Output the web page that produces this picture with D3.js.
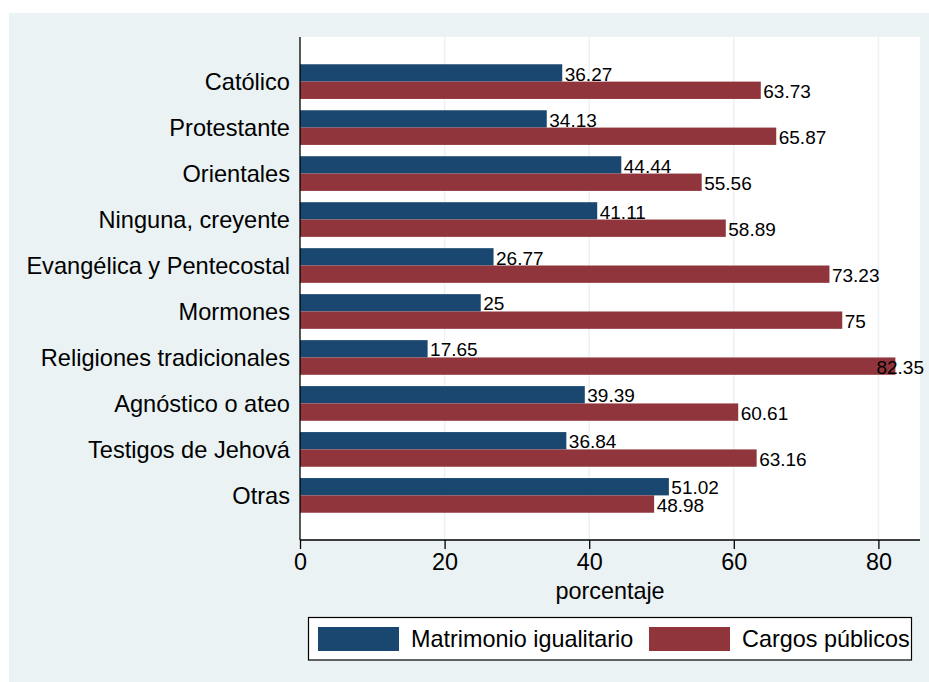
<!DOCTYPE html>
<html>
<head>
<meta charset="utf-8">
<script src="https://cdn.jsdelivr.net/npm/d3@7"></script>
<style>
  html, body { margin: 0; padding: 0; background: #ffffff; }
  text { font-family: "Liberation Sans", Arial, sans-serif; fill: #000; }
</style>
</head>
<body>
<svg id="chart" width="929" height="682"></svg>
<script>
const categories = ["Católico", "Protestante", "Orientales", "Ninguna, creyente",
  "Evangélica y Pentecostal", "Mormones", "Religiones tradicionales",
  "Agnóstico o ateo", "Testigos de Jehová", "Otras"];
const seriesNames = ["Matrimonio igualitario", "Cargos públicos"];
const matrimonio = [36.27, 34.13, 44.44, 41.11, 26.77, 25, 17.65, 39.39, 36.84, 51.02];
const cargos = [63.73, 65.87, 55.56, 58.89, 73.23, 75, 82.35, 60.61, 63.16, 48.98];
const xTicks = [0, 20, 40, 60, 80];
const colors = ["#1a476f", "#90353b"];
const axisTitle = "porcentaje";

const svg = d3.select("#chart");
const W = 929, H = 682;
const plot = { left: 300, right: 920, top: 37, bottom: 540 };

// outer graph region
svg.append("rect").attr("x", 9).attr("y", 13).attr("width", W - 9).attr("height", H - 13)
  .attr("fill", "#eaf2f3");
svg.append("rect").attr("x", plot.left).attr("y", plot.top)
  .attr("width", plot.right - plot.left).attr("height", plot.bottom - plot.top)
  .attr("fill", "#ffffff");

const x = d3.scaleLinear().domain([0, (plot.right - plot.left) / 7.23]).range([plot.left, plot.right]);
const y = d3.scaleBand().domain(categories).range([plot.top, plot.bottom])
  .paddingInner(0.2457).paddingOuter(0.593);
const ySub = d3.scaleBand().domain([0, 1]).range([0, y.bandwidth()]);

// gridlines
svg.append("g").selectAll("line").data(xTicks.filter(d => d > 0)).join("line")
  .attr("x1", d => x(d)).attr("x2", d => x(d))
  .attr("y1", plot.top).attr("y2", plot.bottom)
  .attr("stroke", "#eaf2f3").attr("stroke-width", 1.5);

const rows = categories.map((c, i) => ({ cat: c, vals: [matrimonio[i], cargos[i]] }));

const g = svg.append("g");
const groups = g.selectAll("g.grp").data(rows).join("g")
  .attr("transform", d => `translate(0,${y(d.cat)})`);

groups.selectAll("rect").data(d => d.vals.map((v, k) => ({ v, k }))).join("rect")
  .attr("x", x(0))
  .attr("y", d => ySub(d.k))
  .attr("width", d => x(d.v) - x(0))
  .attr("height", ySub.bandwidth())
  .attr("fill", d => colors[d.k]);

const labelLimit = 924;
groups.selectAll("text.val").data(d => d.vals.map((v, k) => ({ v, k }))).join("text")
  .attr("class", "val")
  .attr("y", d => ySub(d.k) + ySub.bandwidth() - 1)
  .style("font-size", "19px")
  .text(d => String(d.v))
  .attr("x", function(d) {
    const w = this.getComputedTextLength();
    return Math.min(x(d.v) + 2.5, labelLimit - w);
  });

// category labels
svg.append("g").selectAll("text").data(categories).join("text")
  .attr("x", plot.left - 10)
  .attr("y", d => y(d) + y.bandwidth() / 2 + 8.4)
  .attr("text-anchor", "end")
  .style("font-size", "23.6px")
  .text(d => d);

// axes
const xAxis = d3.axisBottom(x).tickValues(xTicks).tickSize(9).tickPadding(4).tickFormat(d3.format("d"));
const ax = svg.append("g").attr("transform", `translate(0,${plot.bottom})`).call(xAxis);
ax.select(".domain").remove();
ax.selectAll(".tick line").attr("stroke", "#000").attr("stroke-width", 1.3);
ax.selectAll(".tick text").style("font-size", "23.4px")
  .style("font-family", '"Liberation Sans", Arial, sans-serif').attr("fill", "#000");
svg.append("line").attr("x1", plot.left).attr("x2", plot.right + 0)
  .attr("y1", plot.bottom).attr("y2", plot.bottom).attr("stroke", "#000").attr("stroke-width", 1.3);
svg.append("line").attr("x1", plot.left).attr("x2", plot.left)
  .attr("y1", plot.top).attr("y2", plot.bottom).attr("stroke", "#000").attr("stroke-width", 1.3);

svg.append("text").attr("x", (plot.left + plot.right) / 2).attr("y", 599)
  .attr("text-anchor", "middle").style("font-size", "23.4px").text(axisTitle);

// legend
const leg = svg.append("g");
leg.append("rect").attr("x", 308.5).attr("y", 617.5).attr("width", 603).attr("height", 42.5)
  .attr("fill", "#fff").attr("stroke", "#000").attr("stroke-width", 1.2);
const legX = [318, 649];
seriesNames.forEach((name, k) => {
  leg.append("rect").attr("x", legX[k]).attr("y", 627).attr("width", 81).attr("height", 24)
    .attr("fill", colors[k]);
  leg.append("text").attr("x", legX[k] + 93).attr("y", 647).style("font-size", "23.4px").text(name);
});
</script>
</body>
</html>
